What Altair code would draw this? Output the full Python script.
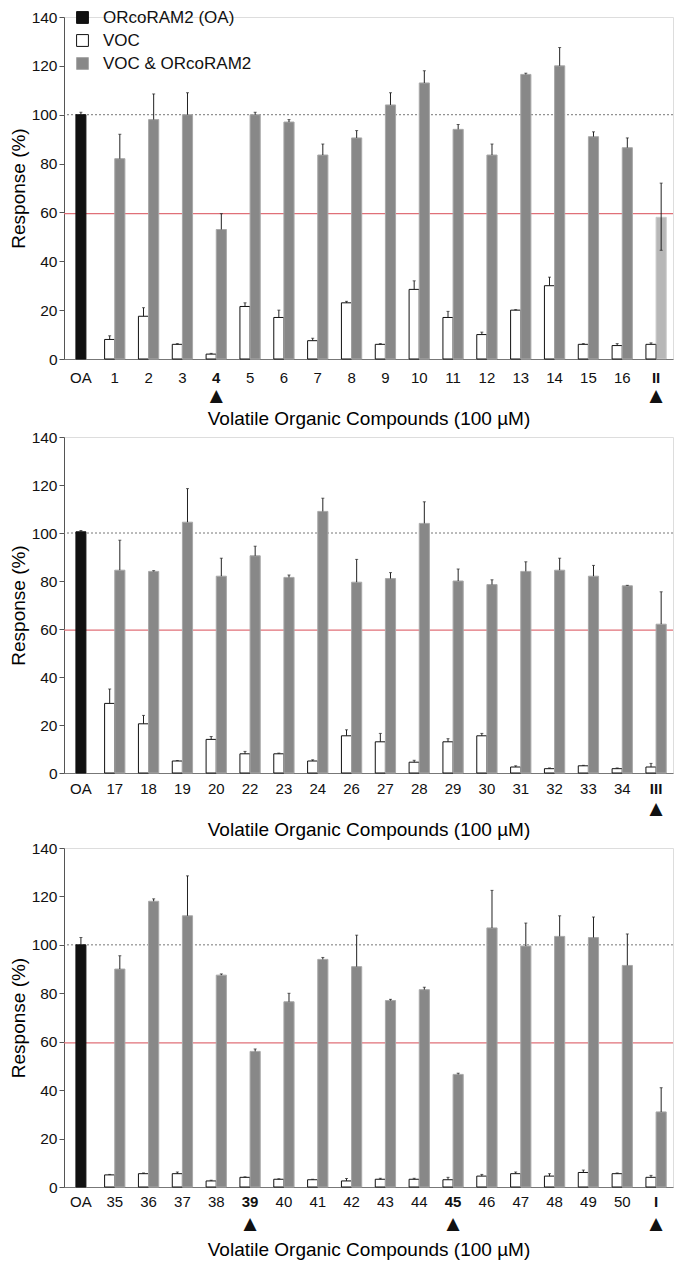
import altair as alt
import pandas as pd

FONT = "Liberation Sans"
SERIES = ["ORcoRAM2 (OA)", "VOC", "VOC & ORcoRAM2"]
FILLS = ["#111111", "#ffffff", "#888888"]
STROKES = ["#111111", "#111111", "#a8a8a8"]
XTITLE = "Volatile Organic Compounds (100 µM)"
YTITLE = "Response (%)"

# ---------- panel 1 ----------
p1_cats = ["OA"] + [str(i) for i in range(1, 17)] + ["II"]
p1_oa, p1_oa_hi = 100.0, 101.0
p1_voc = [8, 17.5, 6, 2, 21.5, 17, 7.5, 23, 6, 28.5, 17, 10, 20, 30, 6, 5.5, 6]
p1_voc_hi = [9.5, 21, 6.3, 2.3, 23, 20, 8.5, 23.6, 6.3, 32, 19.5, 11, 20.2, 33.5, 6.3, 6.3, 6.6]
p1_mix = [82, 98, 100, 53, 100, 97, 83.5, 90.5, 104, 113, 94, 83.5, 116.5, 120, 91, 86.5, 58]
p1_mix_hi = [92, 108.5, 109, 59.5, 101, 98, 88, 93.5, 109, 118, 96, 88, 117, 127.5, 93, 90.5, 72]
p1_mix_lo = [None] * 16 + [44.5]
p1_marked = ["4", "II"]

# ---------- panel 2 ----------
p2_cats = ["OA", "17", "18", "19", "20", "22", "23", "24", "26", "27", "28",
           "29", "30", "31", "32", "33", "34", "III"]
p2_oa, p2_oa_hi = 100.5, 101.0
p2_voc = [29, 20.5, 5, 14, 8, 8, 5, 15.5, 13, 4.5, 13, 15.5, 2.5, 1.8, 3, 1.8, 2.5]
p2_voc_hi = [35, 24, 5.2, 15.2, 9, 8.3, 5.5, 18, 16.5, 5.3, 14.3, 16.5, 3, 2.1, 3.2, 2.1, 4]
p2_mix = [84.5, 84, 104.5, 82, 90.5, 81.5, 109, 79.5, 81, 104, 80, 78.5, 84, 84.5, 82, 78, 62]
p2_mix_hi = [97, 84.3, 118.5, 89.5, 94.5, 82.5, 114.5, 89, 83.5, 113, 85, 80.5, 88, 89.5, 86.5, 78.2, 75.5]
p2_mix_lo = [None] * 17
p2_marked = ["III"]

# ---------- panel 3 ----------
p3_cats = ["OA"] + [str(i) for i in range(35, 51)] + ["I"]
p3_oa, p3_oa_hi = 100.0, 103.0
p3_voc = [5, 5.5, 5.5, 2.5, 4, 3.2, 3, 2.5, 3.2, 3.2, 3, 4.5, 5.5, 4.5, 6, 5.5, 4]
p3_voc_hi = [5.2, 5.8, 6.2, 2.8, 4.2, 3.4, 3.2, 3.5, 3.6, 3.6, 4, 5.2, 6.2, 5.5, 7, 5.8, 4.8]
p3_mix = [90, 118, 112, 87.5, 56, 76.5, 94, 91, 77, 81.5, 46.5, 107, 99.5, 103.5, 103, 91.5, 31]
p3_mix_hi = [95.5, 119, 128.5, 88, 57, 80, 94.8, 104, 77.5, 82.5, 47, 122.5, 109, 112, 111.5, 104.5, 41]
p3_mix_lo = [None] * 17
p3_marked = ["39", "45", "I"]

REF_DOTTED = 100
REF_RED = 59.5
YTICKS = [0, 20, 40, 60, 80, 100, 120, 140]

W = 609
AXC = "#555555"


def panel(cats, oa, oa_hi, voc, voc_hi, mix, mix_hi, mix_lo, marked, h,
          label_pad, title_pad, arrow_dy, legend, faded=None):
    rows = []
    for c, v, vh in zip(cats[1:], voc, voc_hi):
        rows.append(dict(cat=c, series=SERIES[1], value=v, lo=v, hi=vh, lowcap=False))
    for c, v, vh, vl in zip(cats[1:], mix, mix_hi, mix_lo):
        rows.append(dict(cat=c, series=SERIES[2], value=v,
                         lo=(v if vl is None else vl), hi=vh, lowcap=vl is not None))
    pairs = pd.DataFrame(rows)
    pairs["faded"] = pairs["cat"].isin(faded or []) & (pairs["series"] == SERIES[2])
    oadf = pd.DataFrame([dict(cat="OA", series=SERIES[0], value=oa, lo=oa, hi=oa_hi)])
    arrows = pd.DataFrame(dict(cat=marked, t=["▲"] * len(marked)))
    refs = pd.DataFrame(dict(y=[REF_DOTTED]))
    refs2 = pd.DataFrame(dict(y=[REF_RED]))

    bold_expr = "indexof(%s, datum.value) >= 0 ? 'bold' : 'normal'" % str(marked)
    xaxis = alt.Axis(labelAngle=0, labelFontSize=15, labelFont=FONT, ticks=False,
                     tickSize=0, labelPadding=label_pad, titlePadding=title_pad,
                     titleFontSize=19, titleFont=FONT, titleFontWeight="normal",
                     domainColor="#777777", labelColor="#111",
                     labelFontWeight={"expr": bold_expr})
    X = alt.X("cat:N", scale=alt.Scale(domain=cats, paddingInner=0.4, paddingOuter=0.2),
              axis=xaxis, title=XTITLE)
    yaxis = alt.Axis(values=YTICKS, labelFontSize=15.5, labelFont=FONT, grid=False,
                     tickSize=5, tickColor=AXC, domainColor=AXC,
                     labelColor="#111", titleFontSize=19, titleFont=FONT,
                     titleFontWeight="normal", titlePadding=3, labelPadding=2)
    ysc = alt.Scale(domain=[0, 140], nice=False)

    def Y(f):
        return alt.Y(f + ":Q", scale=ysc, axis=yaxis, title=YTITLE)

    leg = None
    if legend:
        leg = alt.Legend(orient="none", legendX=10, legendY=-8, title=None,
                         labelFontSize=17, labelFont=FONT, labelColor="#111",
                         symbolType="square", symbolSize=140, symbolStrokeWidth=1,
                         rowPadding=5, labelOffset=12)
    fill = alt.Fill("series:N", scale=alt.Scale(domain=SERIES, range=FILLS), legend=leg)
    stroke = alt.Stroke("series:N", scale=alt.Scale(domain=SERIES, range=STROKES), legend=leg)
    xoff = alt.XOffset("series:N", scale=alt.Scale(domain=SERIES[1:], paddingInner=0,
                                                   paddingOuter=0))

    dotted = alt.Chart(refs).mark_rule(color="#777", strokeDash=[2, 2], strokeWidth=1).encode(
        y=Y("y"))
    red = alt.Chart(refs2).mark_rule(color="#e07078", strokeWidth=1.3).encode(y=Y("y"))

    oabar = alt.Chart(oadf).mark_bar(size=10, strokeWidth=1).encode(
        x=X, y=Y("value"), fill=fill, stroke=stroke)
    bars = alt.Chart(pairs).mark_bar(strokeWidth=1).encode(
        x=X, xOffset=xoff, y=Y("value"), fill=fill, stroke=stroke,
        opacity=alt.condition("datum.faded", alt.value(0.6), alt.value(1.0)))

    err = alt.Chart(pairs).mark_rule(color="#222", strokeWidth=1).encode(
        x=X, xOffset=xoff, y=Y("lo"), y2="hi")
    capt = alt.Chart(pairs).mark_tick(color="#222", size=3, thickness=1).encode(
        x=X, xOffset=xoff, y=Y("hi"))
    capb = alt.Chart(pairs).transform_filter("datum.lowcap").mark_tick(
        color="#222", size=3, thickness=1).encode(x=X, xOffset=xoff, y=Y("lo"))
    oaerr = alt.Chart(oadf).mark_rule(color="#222", strokeWidth=1).encode(
        x=X, y=Y("lo"), y2="hi")
    oacap = alt.Chart(oadf).mark_tick(color="#222", size=3, thickness=1).encode(
        x=X, y=Y("hi"))
    arr = alt.Chart(arrows).mark_text(fontSize=17, font="DejaVu Sans", color="#111",
                                      baseline="middle").encode(
        x=X, y=alt.value(h + arrow_dy), text="t:N")

    return alt.layer(dotted, red, oabar, bars, err, capt, capb, oaerr, oacap, arr).properties(
        width=W, height=h).resolve_scale(fill="shared", stroke="shared")


c1 = panel(p1_cats, p1_oa, p1_oa_hi, p1_voc, p1_voc_hi, p1_mix, p1_mix_hi, p1_mix_lo,
           p1_marked, 342, 11, 24, 37, True, faded=["II"])
c2 = panel(p2_cats, p2_oa, p2_oa_hi, p2_voc, p2_voc_hi, p2_mix, p2_mix_hi, p2_mix_lo,
           p2_marked, 336, 8, 24, 36, False)
c3 = panel(p3_cats, p3_oa, p3_oa_hi, p3_voc, p3_voc_hi, p3_mix, p3_mix_hi, p3_mix_lo,
           p3_marked, 339, 7, 31, 37, False)

chart = alt.vconcat(c1, c2, c3, spacing=0).resolve_scale(
    fill="independent", stroke="independent", x="independent", y="independent"
).properties(padding={"left": 0, "top": 0, "right": 0, "bottom": 0}).configure_view(
    stroke=None).configure(font=FONT)

chart.save("out.html", embed_options={"renderer": "svg", "actions": False})
